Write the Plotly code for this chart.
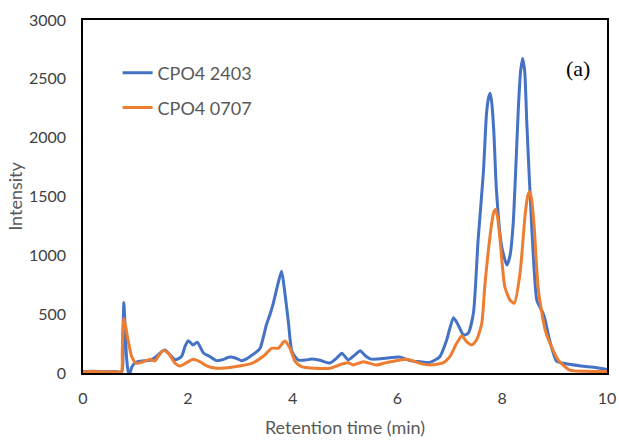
import plotly.graph_objects as go

# Retention time (min) and detector intensity for the two chromatograms
time_2403 = [0.0, 0.2, 0.4, 0.6, 0.74, 0.76, 0.78, 0.80, 0.83, 0.86, 0.89, 0.93, 1.0, 1.1, 1.2, 1.3,
             1.4, 1.47, 1.56, 1.66, 1.76, 1.88, 1.95, 2.01, 2.1, 2.18, 2.3, 2.42, 2.55, 2.65, 2.8,
             2.92, 3.03, 3.12, 3.22, 3.3, 3.38, 3.45, 3.5, 3.57, 3.63, 3.73, 3.79, 3.85, 3.92, 3.99,
             4.11, 4.25, 4.36, 4.52, 4.71, 4.85, 4.94, 5.06, 5.18, 5.29, 5.38, 5.48, 5.6, 5.8, 6.05,
             6.24, 6.43, 6.62, 6.81, 6.94, 7.07, 7.16, 7.26, 7.35, 7.45, 7.54, 7.64, 7.70, 7.74,
             7.77, 7.80, 7.84, 7.89, 7.99, 8.09, 8.15, 8.21, 8.31, 8.35, 8.39, 8.43, 8.47, 8.56,
             8.66, 8.72, 8.78, 8.82, 8.91, 9.04, 9.2, 9.5, 9.8, 10.0]
intensity_2403 = [12, 15, 10, 12, 12, 300, 600, 420, 140, 20, -10, 50, 90, 100, 105, 110,
                  140, 170, 195, 155, 112, 140, 230, 275, 238, 262, 170, 140, 105, 112, 135,
                  125, 105, 120, 150, 175, 210, 320, 410, 500, 590, 775, 865, 690, 430, 180,
                  110, 110, 118, 108, 85, 130, 168, 112, 150, 190, 150, 120, 118, 127, 135,
                  105, 96, 90, 139, 280, 470, 408, 323, 337, 507, 1130, 1700, 2200, 2340,
                  2378, 2300, 2050, 1555, 1074, 918, 1000, 1272, 2264, 2560, 2675, 2560, 2122, 1272,
                  620, 560, 507, 450, 270, 100, 80, 60, 45, 30]

time_0707 = [0.0, 0.2, 0.4, 0.6, 0.73, 0.75, 0.78, 0.82, 0.86, 0.93, 1.02, 1.15, 1.28, 1.37, 1.45,
             1.53, 1.63, 1.76, 1.85, 1.98, 2.1, 2.23, 2.36, 2.55, 2.9, 3.22, 3.47, 3.6, 3.73, 3.85,
             3.95, 4.05, 4.17, 4.43, 4.71, 4.94, 5.06, 5.16, 5.35, 5.6, 5.79, 6.18, 6.43, 6.62,
             6.88, 7.0, 7.13, 7.23, 7.32, 7.42, 7.51, 7.61, 7.67, 7.8, 7.84, 7.87, 7.91, 7.96,
             8.05, 8.15, 8.23, 8.34, 8.44, 8.49, 8.52, 8.56, 8.61, 8.69, 8.82, 8.94, 9.07, 9.29,
             9.6, 10.0]
intensity_0707 = [10, 12, 8, 10, 10, 200, 465, 380, 280, 140, 82, 96, 116, 102, 150,
                  190, 167, 82, 60, 88, 116, 96, 60, 40, 54, 82, 153, 210, 212, 272,
                  210, 96, 54, 40, 40, 76, 88, 68, 96, 68, 88, 116, 82, 68,
                  88, 139, 252, 317, 266, 238, 280, 422, 750, 1272, 1370, 1390, 1330, 1130,
                  733, 620, 592, 847, 1357, 1510, 1540, 1480, 1244, 705, 365, 224, 110, 25,
                  15, 12]

series_names = ["CPO4 2403", "CPO4 0707"]
series_colors = ["#4472C4", "#ED7D31"]

x_ticks = [0, 2, 4, 6, 8, 10]
y_ticks = [0, 500, 1000, 1500, 2000, 2500, 3000]

fig = go.Figure()
fig.add_trace(go.Scatter(
    x=time_2403, y=intensity_2403, mode="lines", name=series_names[0],
    line=dict(color=series_colors[0], width=3, shape="spline", smoothing=0.6),
    legend="legend",
))
fig.add_trace(go.Scatter(
    x=time_0707, y=intensity_0707, mode="lines", name=series_names[1],
    line=dict(color=series_colors[1], width=3, shape="spline", smoothing=0.6),
    legend="legend2",
))

tick_font = dict(family="Lato, Noto Sans, sans-serif", size=16, color="#404040")
title_font = dict(family="Lato, Noto Sans, sans-serif", size=18, color="#595959")
legend_font = dict(family="Lato, Noto Sans, sans-serif", size=18, color="#595959")

fig.update_layout(
    width=619, height=441,
    margin=dict(l=83, r=12, t=20, b=68),
    paper_bgcolor="white", plot_bgcolor="white",
    showlegend=True,
    xaxis=dict(
        range=[0, 10], tickvals=x_ticks, showgrid=False, zeroline=False,
        showline=True, mirror=True, linecolor="black", linewidth=1.5,
        ticks="", tickfont=tick_font, ticklabelstandoff=10, automargin=False,
        title=dict(text="Retention time (min)", font=title_font, standoff=15),
    ),
    yaxis=dict(
        range=[0, 3000], tickvals=y_ticks, showgrid=False, zeroline=False,
        showline=True, mirror=True, linecolor="black", linewidth=1.5,
        ticks="", tickfont=tick_font, ticklabelstandoff=12, automargin=False,
        title=dict(text="Intensity", font=title_font, standoff=2),
    ),
    legend=dict(x=0.066, y=0.850, xanchor="left", yanchor="middle",
                bgcolor="rgba(0,0,0,0)", font=legend_font),
    legend2=dict(x=0.066, y=0.751, xanchor="left", yanchor="middle",
                 bgcolor="rgba(0,0,0,0)", font=legend_font),
    annotations=[dict(
        text="(a)", x=0.945, y=0.864, xref="paper", yref="paper",
        xanchor="center", yanchor="middle", showarrow=False,
        font=dict(family="Liberation Serif, Times New Roman, serif", size=22, color="black"),
    )],
)

fig.write_html("out.html")
